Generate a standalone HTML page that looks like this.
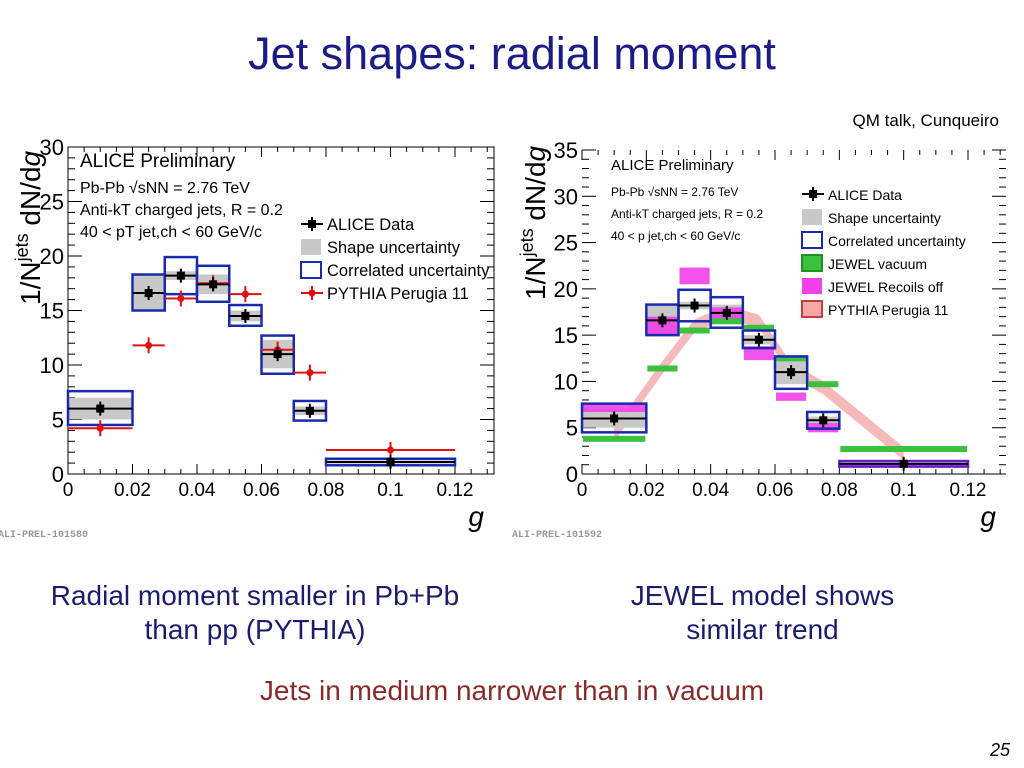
<!DOCTYPE html>
<html><head><meta charset="utf-8"><style>
body{margin:0;width:1024px;height:768px;background:#fff;overflow:hidden;position:relative;font-family:"Liberation Sans",sans-serif}
.t{position:absolute;text-align:center;white-space:nowrap}
</style></head><body>
<div class="t" style="left:0;width:1024px;top:28px;font-size:45px;color:#1c1c88">Jet shapes: radial moment</div>
<div class="t" style="right:25px;top:111px;font-size:17px;color:#000">QM talk, Cunqueiro</div>
<svg id="c" width="1024" height="560" style="position:absolute;left:0;top:0"></svg>
<div class="t" style="left:0;width:510px;top:579px;font-size:28px;line-height:34px;color:#1c1c6e">Radial moment smaller in Pb+Pb<br>than pp (PYTHIA)</div>
<div class="t" style="left:510px;width:505px;top:579px;font-size:28px;line-height:34px;color:#1c1c6e">JEWEL model shows<br>similar trend</div>
<div class="t" style="left:0;width:1024px;top:675px;font-size:28px;color:#8b2a2a">Jets in medium narrower than in vacuum</div>
<div class="t" style="left:990px;top:740px;font-size:18px;font-style:italic">25</div>
<script>
const binLo=[0,0.02,0.03,0.04,0.05,0.06,0.07,0.08];
const binHi=[0.02,0.03,0.04,0.05,0.06,0.07,0.08,0.12];
const aliceVal=[6.0,16.6,18.2,17.4,14.5,11.0,5.8,1.1];
const shapeLo=[5.0,15.0,17.8,16.5,14.0,9.7,5.4,0.95];
const shapeHi=[7.0,18.3,18.6,18.3,15.0,12.3,6.2,1.25];
const corrLo=[4.5,15.0,16.5,15.8,13.6,9.2,4.9,0.8];
const corrHi=[7.6,18.3,19.9,19.1,15.5,12.7,6.7,1.4];
const pythiaVal=[4.2,11.8,16.1,17.5,16.5,11.4,9.3,2.2];
const jewelVac=[3.8,11.4,15.5,16.5,15.8,12.5,9.7,2.7];
const jewelRecLo=[6.7,15.0,20.5,16.5,12.3,7.9,4.5,0.8];
const jewelRecHi=[7.6,17.0,22.3,18.0,13.8,8.8,5.5,1.2];
const pythiaBandX=[0.01,0.025,0.035,0.045,0.055,0.065,0.075,0.1];
const pythiaBandY=[4.2,11.5,16.0,17.5,16.5,11.3,9.3,2.2];
const xTicks=[0,0.02,0.04,0.06,0.08,0.1,0.12];
const xTickLabels=["0","0.02","0.04","0.06","0.08","0.1","0.12"];

const svg=document.getElementById('c');const NS='http://www.w3.org/2000/svg';
function el(t,a,p){const e=document.createElementNS(NS,t);for(const k in a)e.setAttribute(k,a[k]);(p||svg).appendChild(e);return e;}
function txt(x,y,s,size,name,extra){const e=el('text',Object.assign({x:x,y:y,'font-size':size,'font-family':'Liberation Sans, sans-serif'},extra||{}));e.textContent=s;


return e;}

function chart(cfg){
 const X=v=>cfg.x0+v/0.12*(cfg.x12-cfg.x0);
 const Y=v=>cfg.y0-v/cfg.ymax*(cfg.y0-cfg.ytop);
 const g=el('g',{});
 
 
 if(cfg.frame){const f=el('rect',{x:cfg.x0,y:cfg.ytop,width:cfg.xr-cfg.x0,height:cfg.y0-cfg.ytop,fill:'none',stroke:'#000','stroke-width':1},g);
 
 }
 else{el('line',{x1:cfg.x0,x2:cfg.xr,y1:cfg.y0,y2:cfg.y0,stroke:'#000'},g);}
 for(let v=0;v<=0.13001;v+=0.005){const big=Math.round(v*1000)%20==0;const L=big?10:5;
  el('line',{x1:X(v),x2:X(v),y1:cfg.y0,y2:cfg.y0-L,stroke:'#000'},g);
  el('line',{x1:X(v),x2:X(v),y1:cfg.ytop,y2:cfg.ytop+L,stroke:'#000'},g);}
 for(let v=0;v<=cfg.ymax+0.01;v+=1){const big=v%5==0;const L=big?14:7;
  el('line',{x1:cfg.x0,x2:cfg.x0+L,y1:Y(v),y2:Y(v),stroke:'#000'},g);
  el('line',{x1:cfg.xr,x2:cfg.xr-L,y1:Y(v),y2:Y(v),stroke:'#000'},g);
  if(big){const t=txt(cfg.x0-4,Y(v)+8,String(v),22,'y-tick-label',{'text-anchor':'end'});g.appendChild(t);}}
 xTicks.forEach((v,i)=>{const t=txt(X(v),cfg.y0+22,xTickLabels[i],19,'x-tick-label',{'text-anchor':'middle'});g.appendChild(t);});
 const xt=txt(cfg.xr-10,cfg.y0+52,'g',28,'x-axis-title',{'font-style':'italic','text-anchor':'end'});g.appendChild(xt);
 const yt=txt(0,0,'1/N',28,'y-axis-title',{transform:`translate(${cfg.ylx},${cfg.yly}) rotate(-90)`});
 const ts=document.createElementNS(NS,'tspan');ts.setAttribute('dy','-12');ts.setAttribute('font-size','18');ts.textContent='jets';yt.appendChild(ts);
 const ts2=document.createElementNS(NS,'tspan');ts2.setAttribute('dy','12');ts2.textContent=' dN/d';yt.appendChild(ts2);
 const ts3=document.createElementNS(NS,'tspan');ts3.setAttribute('font-style','italic');ts3.textContent='g';yt.appendChild(ts3);g.appendChild(yt);
 const pl=txt(cfg.x0-70,cfg.y0+63,cfg.prel,10,'preliminary-id',{fill:'#999','font-family':'Liberation Mono, monospace','font-weight':'bold'});g.appendChild(pl);
 const ann=cfg.annot;ann.forEach((s,i)=>{const t=txt(cfg.x0+cfg.annDx,cfg.ytop+20+i*cfg.annStep+(i? 4:0),s,i?cfg.annSize-3:cfg.annSize,'annotation-line');g.appendChild(t);});
 if(cfg.jewel){
  let up='',dn='';pythiaBandX.forEach((v,i)=>{up+=(i?'L':'M')+X(v)+','+Y(pythiaBandY[i]+0.7);});
  for(let i=pythiaBandX.length-1;i>=0;i--)dn+='L'+X(pythiaBandX[i])+','+Y(pythiaBandY[i]-0.7);
  const b=el('path',{d:up+dn+'Z',fill:'#f4a8a8',opacity:0.8},g);
  
  
 }
 binLo.forEach((lo,i)=>{
  const hi=binHi[i];
  const s=el('rect',{x:X(lo),y:Y(shapeHi[i]),width:X(hi)-X(lo),height:Y(shapeLo[i])-Y(shapeHi[i]),fill:'#c8c8c8'},g);
  
  
  if(cfg.jewel){
   const m=el('rect',{x:X(lo)+1,y:Y(jewelRecHi[i]),width:X(hi)-X(lo)-2,height:Y(jewelRecLo[i])-Y(jewelRecHi[i]),fill:'#f040e8',opacity:0.9},g);
   
   
   const gv=el('rect',{x:X(lo)+1,y:Y(jewelVac[i])-3,width:X(hi)-X(lo)-2,height:6,fill:'#3cc040'},g);
   
   
  }
  const c=el('rect',{x:X(lo),y:Y(corrHi[i]),width:X(hi)-X(lo),height:Y(corrLo[i])-Y(corrHi[i]),fill:'none',stroke:cfg.jewel&&i==7?'#6020d0':'#1a2ab0','stroke-width':2.5},g);
  
  
  if(!cfg.jewel){const xc=X((lo+hi)/2);
   const pl=el('line',{x1:X(lo),x2:X(hi),y1:Y(pythiaVal[i]),y2:Y(pythiaVal[i]),stroke:'#e01010','stroke-width':2},g);
   
   
   el('line',{x1:xc,x2:xc,y1:Y(pythiaVal[i])-8,y2:Y(pythiaVal[i])+8,stroke:'#e01010','stroke-width':2},g);
   el('circle',{cx:xc,cy:Y(pythiaVal[i]),r:3.5,fill:'#e01010'},g);}
  const xc=X((lo+hi)/2);
  const d=el('line',{x1:X(lo),x2:X(hi),y1:Y(aliceVal[i]),y2:Y(aliceVal[i]),stroke:'#000','stroke-width':2},g);
  
  
  el('line',{x1:xc,x2:xc,y1:Y(aliceVal[i])-7,y2:Y(aliceVal[i])+7,stroke:'#000','stroke-width':2},g);
  el('rect',{x:xc-4,y:Y(aliceVal[i])-4,width:8,height:8,fill:'#000'},g);
 });
 cfg.legend.forEach((L,i)=>{const ly=cfg.legY+i*cfg.legStep,lx=cfg.legX;
  const lg=el('g',{},g);
  
  
  if(L.k=='data'){el('line',{x1:lx,x2:lx+22,y1:ly,y2:ly,stroke:'#000','stroke-width':2},lg);el('line',{x1:lx+11,x2:lx+11,y1:ly-7,y2:ly+7,stroke:'#000','stroke-width':2},lg);el('rect',{x:lx+7,y:ly-4,width:8,height:8},lg);}
  else if(L.k=='pyl'){el('line',{x1:lx,x2:lx+22,y1:ly,y2:ly,stroke:'#e01010','stroke-width':2},lg);el('line',{x1:lx+11,x2:lx+11,y1:ly-7,y2:ly+7,stroke:'#e01010','stroke-width':2},lg);el('circle',{cx:lx+11,cy:ly,r:3.5,fill:'#e01010'},lg);}
  else el('rect',{x:lx,y:ly-8,width:20,height:16,fill:L.f,stroke:L.s||'none','stroke-width':2},lg);
  const t=txt(lx+26,ly+6,L.t,cfg.legSize,'legend-label');lg.appendChild(t);});
}
chart({name:'left-chart',frame:true,x0:68,x12:455,xr:494,y0:474,ytop:147,ymax:30,ylx:40,yly:305,prel:'ALI-PREL-101580',jewel:false,
 annot:['ALICE Preliminary','Pb-Pb √sNN = 2.76 TeV','Anti-kT  charged jets, R = 0.2','40 < pT jet,ch < 60 GeV/c'],annDx:12,annStep:22,annSize:19,
 legX:301,legY:224,legStep:23,legSize:16.5,
 legend:[{k:'data',t:'ALICE Data'},{f:'#c8c8c8',t:'Shape uncertainty'},{f:'#fff',s:'#1a2ab0',t:'Correlated uncertainty'},{k:'pyl',t:'PYTHIA Perugia 11'}]});
chart({name:'right-chart',frame:false,x0:582,x12:968,xr:1006,y0:474,ytop:150,ymax:35,ylx:545,yly:300,prel:'ALI-PREL-101592',jewel:true,
 annot:['ALICE Preliminary','Pb-Pb √sNN = 2.76 TeV','Anti-kT  charged jets, R = 0.2','40 < p jet,ch < 60 GeV/c'],annDx:29,annStep:22,annSize:15,
 legX:802,legY:194,legStep:23,legSize:14,
 legend:[{k:'data',t:'ALICE Data'},{f:'#c8c8c8',t:'Shape uncertainty'},{f:'#fff',s:'#1a2ab0',t:'Correlated uncertainty'},{f:'#3cc040',s:'#209020',t:'JEWEL vacuum'},{f:'#f040e8',t:'JEWEL Recoils off'},{f:'#f4a8a8',s:'#c04040',t:'PYTHIA Perugia 11'}]});
</script>
</body></html>
